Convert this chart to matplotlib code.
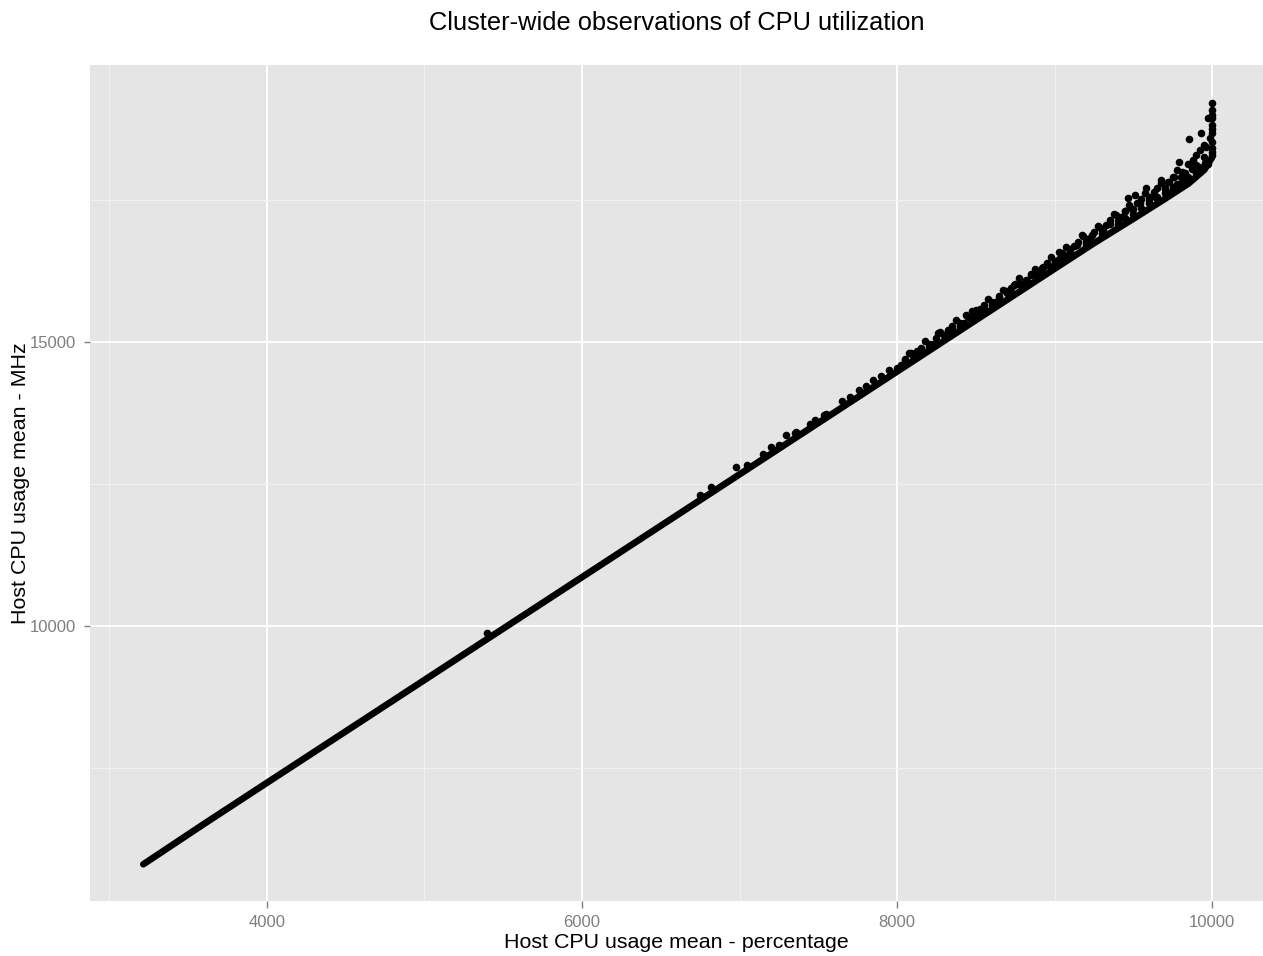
import matplotlib.pyplot as plt
from matplotlib.ticker import MultipleLocator

plt.rcParams['font.family'] = ['Liberation Sans', 'DejaVu Sans']

# host CPU usage: percentage (x100) vs MHz, bulk of the observations
trend_x = [3215, 3600, 4000, 4500, 5000, 5500, 6000, 6500, 7000, 7500,
           8000, 8500, 9000, 9250, 9500, 9700, 9850, 9950, 10000]
trend_y = [5805, 6515, 7240, 8145, 9050, 9955, 10860, 11765, 12670, 13575,
           14480, 15385, 16290, 16740, 17170, 17520, 17790, 18030, 18250]

# observations sitting above the bulk, mostly at high utilization
spread_x = [5394, 6747, 6821, 6975, 7201, 7297, 7360, 7476, 7539, 7650,
            7760, 7850, 7950, 8050, 8089, 8150, 8200, 8258, 8300, 8350,
            8400, 8438, 8470, 8501, 8550, 8600, 8650, 8692, 8720, 8745,
            8780, 8820, 8850, 8880, 8920, 8960, 9000, 9030, 9060, 9100,
            9140, 9178, 9200, 9240, 9284, 9310, 9350, 9390, 9420, 9450,
            9464, 9490, 9512, 9540, 9580, 9600, 9630, 9650, 9675, 9700,
            9720, 9740, 9760, 9780, 9791, 9810, 9830, 9855, 9870, 9876,
            9900, 9918, 9920, 9929, 9950, 9956, 9971, 9985,
            10000, 10000, 10000, 10000, 10000, 10000, 10000, 10000,
            10000, 10000, 10000]
spread_y = [9871, 12306, 12442, 12805, 13157, 13363, 13421, 13627, 13715, 13960,
            14160, 14330, 14500, 14680, 14801, 14870, 14960, 15153, 15130, 15250,
            15330, 15475, 15420, 15563, 15600, 15700, 15780, 15903, 15880, 16004,
            16000, 16100, 16180, 16180, 16300, 16360, 16420, 16590, 16540, 16640,
            16700, 16866, 16820, 16880, 17030, 16990, 17080, 17236, 17200, 17300,
            17530, 17350, 17588, 17440, 17706, 17560, 17640, 17520, 17852, 17700,
            17820, 17640, 17900, 17780, 18174, 18000, 17850, 18569, 18050, 18204,
            18300, 18075, 18380, 18685, 18468, 18157, 18938, 18600,
            19213, 19085, 18938, 18820, 18674, 18526, 18410, 18292,
            18350, 18750, 19000]

# denser cloud just above the bulk
cloud_x = [7050, 7150, 7250, 7350, 7450, 7550, 7700, 7800, 7900,
           8025, 8075, 8125, 8175, 8225, 8275, 8325, 8375, 8425, 8475,
           8525, 8575, 8625, 8675, 8725, 8775, 8825, 8875, 8925, 8975,
           9025, 9075, 9125, 9175, 9225, 9275, 9325, 9375, 9425, 9475,
           9525, 9575, 9625, 9675, 9725, 9775, 9825, 9875,
           8000, 8050, 8100, 8150, 8200, 8250, 8300, 8350, 8400, 8450,
           8500, 8550, 8600, 8650, 8700, 8750, 8800, 8850, 8900, 8950,
           9000, 9050, 9100, 9150, 9200, 9250, 9300, 9350, 9400, 9450,
           9500, 9550, 9600, 9650, 9700, 9750, 9800, 9850, 9900, 9950,
           9960,
           8800, 8900, 9000, 9100, 9200, 9300, 9400, 9450, 9500, 9550,
           9600, 9650, 9700, 9750, 9800, 9850, 9900, 9925, 9975]
cloud_y = [12840, 13020, 13190, 13390, 13560, 13740, 14030, 14220, 14400,
           14595, 14806, 14836, 15017, 14967, 15178, 15208, 15389, 15339, 15550,
           15580, 15761, 15711, 15922, 15952, 16133, 16083, 16294, 16324, 16505,
           16455, 16666, 16696, 16877, 16827, 17038, 17068, 17249, 17199, 17410,
           17440, 17631, 17571, 17792, 17822, 18023, 17983, 18124,
           14540, 14701, 14751, 14902, 14912, 15073, 15123, 15274, 15284, 15445,
           15495, 15646, 15650, 15817, 15857, 16018, 16020, 16189, 16229, 16390,
           16395, 16561, 16601, 16762, 16765, 16933, 16973, 17144, 17134, 17315,
           17345, 17526, 17506, 17717, 17720, 17908, 17910, 18129, 18119, 18260,
           18428,
           15988, 16179, 16350, 16541, 16712, 16903, 17084, 17185, 17255, 17366,
           17446, 17547, 17627, 17728, 17808, 17909, 17979, 18064, 18135]

fig, ax = plt.subplots(figsize=(12.63, 9.56), dpi=100)
fig.subplots_adjust(left=0.0713, right=1.0, bottom=0.0575, top=0.932)

ax.set_facecolor('#E5E5E5')
for s in ax.spines.values():
    s.set_visible(False)

ax.plot(trend_x, trend_y, color='black', linewidth=4.8,
        solid_capstyle='round', zorder=3)
ax.scatter(spread_x, spread_y, s=30, color='black', linewidths=0, zorder=3)
ax.scatter(cloud_x, cloud_y, s=30, color='black', linewidths=0, zorder=3)

ax.set_xlim(2877, 10323)
ax.set_ylim(5158, 19877)

ax.xaxis.set_major_locator(MultipleLocator(2000))
ax.xaxis.set_minor_locator(MultipleLocator(1000))
ax.set_yticks([10000, 15000])
ax.set_yticks([7500, 12500, 17500], minor=True)

ax.grid(which='major', color='white', linewidth=1.4, zorder=0)
ax.grid(which='minor', color='#F2F2F2', linewidth=0.7, zorder=0)
ax.set_axisbelow(True)

ax.tick_params(which='major', axis='x', length=5, width=1, color='#7F7F7F',
               labelcolor='#7F7F7F', labelsize=12, pad=5)
ax.tick_params(which='major', axis='y', length=4, width=1, color='#7F7F7F',
               labelcolor='#7F7F7F', labelsize=12, pad=6)
ax.tick_params(which='minor', length=0)

ax.set_xlabel('Host CPU usage mean - percentage', fontsize=15.4, labelpad=2)
ax.set_ylabel('Host CPU usage mean - MHz', fontsize=15.4, labelpad=0)
fig.suptitle('Cluster-wide observations of CPU utilization', fontsize=18.3,
             x=0.536, y=0.988)

plt.savefig('out.png')
